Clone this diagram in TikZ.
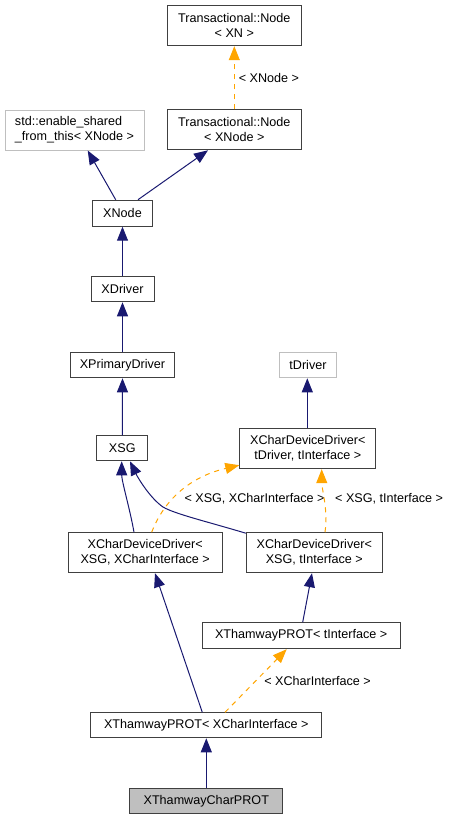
\documentclass[tikz,border=0pt]{standalone}
\usepackage{fontspec}
\setmainfont{Liberation Sans}
\usetikzlibrary{arrows.meta}
\definecolor{edgeblue}{HTML}{191970}
\definecolor{edgeorange}{HTML}{FFA500}
\definecolor{boxborder}{HTML}{404040}
\definecolor{greyborder}{HTML}{BFBFBF}
\definecolor{greyfill}{HTML}{BFBFBF}
\begin{document}
\begin{tikzpicture}[x=1pt,y=-1pt,
  font=\fontsize{12.6}{15}\selectfont,
  box/.style={draw=boxborder, line width=1pt, fill=white, inner sep=0pt, align=center},
  greybox/.style={draw=greyborder, line width=1pt, fill=white, inner sep=0pt, align=left},
  inh/.style={draw=edgeblue, line width=1pt, -{Triangle[length=14pt,width=11pt,fill=edgeblue]}},
  tmpl/.style={draw=edgeorange, line width=1pt, dash pattern=on 5pt off 5pt, -{Triangle[length=14pt,width=11pt,fill=edgeorange]}},
  lbl/.style={inner sep=0pt, font=\fontsize{12.6}{15}\selectfont}
]
\useasboundingbox (0,0) rectangle (448,820);

\node[box, minimum width=134pt, minimum height=40pt] (tnxn) at (234.3,25.7) {Transactional::Node\\ < XN >};
\node[box, minimum width=134pt, minimum height=40pt] (tnxnode) at (234.3,129.8) {Transactional::Node\\ < XNode >};
\node[greybox, minimum width=139pt, minimum height=40pt] (esft) at (74.5,130) {std::enable\_shared\\\_from\_this< XNode >};
\node[box, minimum width=60pt, minimum height=26pt] (xnode) at (122.5,213.2) {XNode};
\node[box, minimum width=63pt, minimum height=25pt] (xdriver) at (122.5,289.3) {XDriver};
\node[box, minimum width=104pt, minimum height=25pt] (xpd) at (122.5,365.3) {XPrimaryDriver};
\node[greybox, minimum width=57pt, minimum height=25pt] (tdriver) at (308,365.3) {tDriver};
\node[box, minimum width=51pt, minimum height=25pt] (xsg) at (122.3,448.3) {XSG};
\node[box, minimum width=136pt, minimum height=40pt] (xcddt) at (307.8,448.7) {XCharDeviceDriver<\\ tDriver, tInterface >};
\node[box, minimum width=154pt, minimum height=40pt] (xcddxci) at (145.2,552.7) {XCharDeviceDriver<\\ XSG, XCharInterface >};
\node[box, minimum width=136pt, minimum height=40pt] (xcddti) at (314.3,552.7) {XCharDeviceDriver<\\ XSG, tInterface >};
\node[box, minimum width=198pt, minimum height=26pt] (xtpti) at (301.2,635.7) {XThamwayPROT< tInterface >};
\node[box, minimum width=231pt, minimum height=25pt] (xtpxci) at (206.3,725.3) {XThamwayPROT< XCharInterface >};
\node[box, fill=greyfill, minimum width=153pt, minimum height=25pt] (xtcp) at (206.3,801.2) {XThamwayCharPROT};

% edges
\draw[tmpl] (tnxnode.north) -- (tnxn.south) node[lbl, midway, right, xshift=4pt] {< XNode >};
\draw[inh] ([xshift=-6.8pt]xnode.north) -- ([xshift=13.2pt]esft.south);
\draw[inh] ([xshift=15.5pt]xnode.north) -- ([xshift=-26.3pt]tnxnode.south);
\draw[inh] (xdriver.north) -- (xnode.south);
\draw[inh] (xpd.north) -- (xdriver.south);
\draw[inh] (xsg.north) -- (xpd.south);
\draw[inh] ([xshift=-0.5pt]xcddt.north) -- ([xshift=-0.7pt]tdriver.south);

\draw[inh] ([xshift=-11.2pt]xcddxci.north) .. controls ([xshift=-15pt,yshift=22pt]xcddxci.north) and ([xshift=-0.6pt,yshift=-20pt]xsg.south) .. ([xshift=-0.6pt]xsg.south);
\draw[inh] ([yshift=-1pt]xcddti.north west) .. controls (205,521) and (175,514) .. (163,507) .. controls (150,498) and (138,478) .. ([xshift=7.7pt]xsg.south);
\node[lbl, anchor=west] (lblA) at (184.3,499) {< XSG, XCharInterface >};
\draw[tmpl] ([xshift=6.5pt]xcddxci.north) .. controls (162,505) and (185,478) .. ([yshift=4pt]xcddt.south west);
\node[lbl, anchor=west] (lblB) at (335,499) {< XSG, tInterface >};
\draw[tmpl] ([xshift=10.7pt]xcddti.north) .. controls ([xshift=14pt,yshift=22pt]xcddti.north) and ([xshift=14pt,yshift=-20pt]xcddt.south) .. ([xshift=13.9pt]xcddt.south);

\draw[inh] ([xshift=-4pt]xtpxci.north) -- ([xshift=9.8pt]xcddxci.south);
\draw[inh] ([xshift=1.5pt]xtpti.north) -- ([xshift=-2.3pt]xcddti.south);
\draw[tmpl] ([xshift=18.7pt]xtpxci.north) -- ([xshift=-14.5pt]xtpti.south) node[lbl, pos=0.5, right, xshift=8pt] {< XCharInterface >};
\draw[inh] (xtcp.north) -- (xtpxci.south);
\end{tikzpicture}
\end{document}
